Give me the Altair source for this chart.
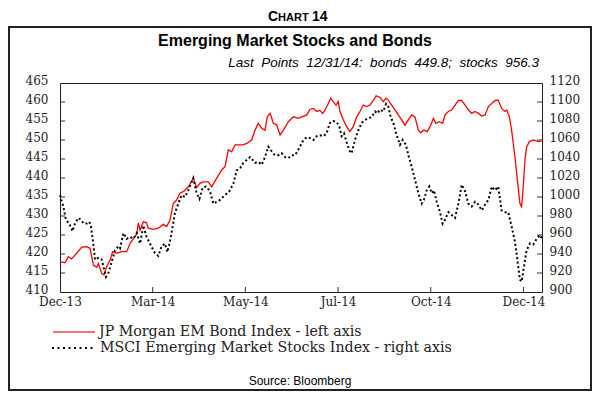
import altair as alt
import pandas as pd

# ---- data (trading-day index from 31 Dec 2013, value) ----
bond_day = [0, 2.7, 4.5, 6.3, 9, 11.7, 14.4, 16.2, 18, 19.8, 20.7, 22.5, 23.7, 25.2, 27, 28.4, 30.6, 33.3,
            36, 37.8, 40.5, 41.4, 42.3, 43.2, 45, 46.7, 47.6, 50.3, 53, 55.7, 57.5, 59.3, 61.1, 62.9, 64.7,
            66.5, 69.2, 71.9, 73.7, 75.5, 77.3, 80, 81.8, 84.5, 87.2, 89, 90.8, 92.6, 94.4, 96.2, 98.9, 100.7,
            103.4, 105.2, 107, 108.8, 110.6, 111.8, 113.3, 115.1, 116.9, 118.7, 120.5, 123.2, 125.9, 128.6,
            133.1, 134.9, 136.7, 138.5, 140.2, 141.7, 143, 144.7, 146, 147.4, 148.9, 150.1, 151, 152.8, 154.6,
            156.4, 158.2, 160, 161.8, 163.6, 165.4, 167.2, 169, 170.5, 172.6, 174.4, 175.9, 177.1, 178.9, 180.7,
            182.5, 184.3, 186.1, 187.9, 189.7, 191.5, 193.3, 194.5, 196.3, 198.1, 200, 201.4, 202.8, 204.6,
            206.4, 207.7, 209.5, 211.3, 213.1, 214.9, 216.7, 218.5, 220.3, 222.1, 223.9, 225.7, 227.5, 229.3,
            231.1, 232.9, 234.6, 236.4, 238.2, 240, 241, 242.4, 243.6, 245.4, 246.7, 248.1, 249, 249.9, 250.8,
            251.7, 253.2, 255.3, 258, 259.8]
bond_val = [418.0, 417.7, 419.3, 418.7, 420.2, 421.8, 421.9, 421.5, 417.1, 416.5, 417.5, 414.9, 414.5, 416.7,
            418.4, 420.6, 420.2, 420.6, 420.6, 422.8, 424.6, 425.4, 428.2, 426.3, 428.5, 428.2, 426.8, 426.5,
            426.8, 427.8, 427.2, 428.9, 433.3, 434.2, 436.0, 436.4, 437.7, 439.9, 437.5, 438.6, 439.0, 439.0,
            437.7, 439.9, 442.1, 443.0, 447.4, 446.9, 448.7, 448.7, 448.7, 449.1, 450.0, 452.6, 454.4, 453.1,
            452.6, 456.1, 457.0, 454.4, 454.0, 451.3, 452.6, 454.8, 456.1, 455.7,
            456.6, 458.1, 458.3, 457.5, 457.8, 457.0, 457.9, 459.6, 461.0, 460.1, 459.2, 460.1, 457.5, 455.3,
            453.5, 452.2, 453.5, 456.1, 457.5, 459.2, 458.8, 459.2, 460.4, 461.6, 461.2, 460.1, 461.0, 460.5,
            459.2, 457.9, 456.6, 455.3, 453.9, 455.3, 456.6, 456.1, 452.6, 451.9, 452.6, 452.2, 453.9, 455.7,
            454.4, 454.8, 454.4, 456.6, 457.5, 457.9, 459.2, 460.4, 460.4, 459.2, 457.9, 457.0, 457.5, 457.0,
            456.3, 456.6, 458.8, 459.6, 460.4, 460.5, 458.3, 457.5, 457.9, 456.1, 452.6, 445.6, 439.5, 433.3,
            432.5, 437.7, 444.7, 448.2, 449.6, 450.0, 449.6, 449.8]

stock_day = [0, 1.8, 3.2, 5, 6.8, 8.1, 9.9, 11.1, 12.9, 14.4, 15.8, 16.7, 18, 18.9, 20.7, 22.5, 23.4, 24.8,
             26.1, 27.9, 29.7, 31.5, 32.4, 34.2, 36, 37.8, 39.6, 41.4, 43.2, 45, 46.7, 48.5, 51.2, 53, 54.8,
             56.6, 57.9, 59.3, 60.8, 62, 63.8, 65.6, 67.4, 69.2, 71.9, 73.7, 75.2, 77, 78.8, 80.9, 82.7, 84.5,
             86.3, 89, 91.3, 93.5, 95.3, 97.1, 98.9, 100.7, 102.5, 103.9, 105.2, 107, 108.8, 110.6, 112.4,
             114.2, 116, 117.8, 119.6, 121.4, 123.2, 125, 126.8, 128.6,
             131.3, 133.1, 134.9, 136.7, 138.5, 140.2, 142.1, 143.8, 145.6, 147.4, 149.2, 150.7, 151.9, 153.2,
             155, 156.4, 157.3, 159.1, 160.9, 162.7, 164.5, 166.3, 168.1, 169.9, 171.2, 172.6, 174.4, 175.9,
             177.1, 178.4, 179.8, 181.6, 183.4, 184.8, 186.6, 187.9, 189.7, 191.5, 193.3, 195.1, 196.3, 197.8,
             199.2, 200.5, 201.7, 203.2, 205, 206.4, 207.7, 209.5, 211.3, 213.1, 214.9, 216.7, 218.5, 220.3,
             222.1, 223.9, 225.7, 227.5, 229.3, 231.1, 232.9, 234.6, 236.4, 238.2, 240, 241.8, 243.6, 245.4,
             246.7, 248.1, 249, 250.3, 251.7, 253.5, 255.3, 257.1, 258.9, 259.8]
stock_val = [1002, 990, 976, 972, 964, 972, 978, 976, 972, 972, 974, 969, 950, 934, 936, 934, 927, 916, 920,
             932, 944, 948, 946, 962, 956, 958, 956, 962, 951, 970, 958, 951, 941, 938, 948, 951, 942, 953, 969,
             983, 993, 1002, 1000, 1007, 1020, 1004, 998, 1010, 1011, 1006, 993, 995, 997, 1002, 1006, 1014,
             1028, 1030, 1036, 1039, 1042, 1039, 1036, 1037, 1034, 1042, 1053, 1048, 1044, 1044, 1046, 1042,
             1041, 1044, 1044, 1050,
             1060, 1063, 1062, 1060, 1064, 1065, 1064, 1067, 1078, 1080, 1079, 1074, 1064, 1067, 1055, 1048,
             1046, 1060, 1070, 1078, 1081, 1083, 1084, 1090, 1088, 1092, 1090, 1098, 1095, 1084, 1078, 1065,
             1055, 1060, 1055, 1044, 1032, 1018, 1004, 993, 997, 1007, 1011, 1004, 1007, 995, 984, 972, 976,
             984, 981, 978, 993, 1013, 1006, 993, 990, 995, 992, 986, 992, 997, 1011, 1007, 1011, 986, 984,
             984, 969, 953, 934, 913, 911, 927, 944, 951, 950, 956, 960, 956.3]

x_tick_values = [0, 50, 100, 150, 200, 250]
x_tick_labels = ["Dec-13", "Mar-14", "May-14", "Jul-14", "Oct-14", "Dec-14"]
left_ticks = [410, 415, 420, 425, 430, 435, 440, 445, 450, 455, 460, 465]
right_ticks = [900, 920, 940, 960, 980, 1000, 1020, 1040, 1060, 1080, 1100, 1120]

W, H = 482, 209
SERIF = "DejaVu Serif"
SANS = "Liberation Sans"

bonds = pd.DataFrame({"day": bond_day, "v": bond_val})
stocks = pd.DataFrame({"day": stock_day, "v": stock_val})

label_expr = " : ".join(
    f"datum.value == {v} ? '{l}'" for v, l in zip(x_tick_values, x_tick_labels)
) + " : ''"

xscale = alt.Scale(domain=[0, 260], nice=False, zero=False)
lscale = alt.Scale(domain=[410, 465], nice=False, zero=False)
rscale = alt.Scale(domain=[900, 1120], nice=False, zero=False)

xaxis = alt.Axis(values=x_tick_values, labelExpr=label_expr, ticks=False, domain=False, grid=False,
                 labelFont=SERIF, labelFontSize=12, labelColor="#222", labelPadding=4,
                 labelFlush=False, labelOverlap=False, title=None)

bond_line = alt.Chart(bonds).mark_line(color="#ff0000", strokeWidth=1.3).encode(
    x=alt.X("day:Q", scale=xscale, axis=xaxis),
    y=alt.Y("v:Q", scale=lscale, axis=alt.Axis(orient="left", values=left_ticks, ticks=False, domain=False,
                                               grid=False, labelFont=SERIF, labelFontSize=12,
                                               labelColor="#222", labelPadding=12, labelFlush=False,
                                               labelOffset=-3, labelOverlap=False, title=None)),
)

stock_line = alt.Chart(stocks).mark_line(color="black", strokeWidth=2, strokeDash=[2, 2.5]).encode(
    x=alt.X("day:Q", scale=xscale),
    y=alt.Y("v:Q", scale=rscale, axis=alt.Axis(orient="right", values=right_ticks, ticks=False, domain=False,
                                               grid=False, labelFont=SERIF, labelFontSize=12, format="d",
                                               labelColor="#222", labelPadding=7, labelFlush=False,
                                               labelOffset=-3, labelOverlap=False, title=None)),
)

# inward tick marks
xt = alt.Chart(pd.DataFrame({"t": x_tick_values[1:]})).mark_rule(color="#333", strokeWidth=1).encode(
    x=alt.X("t:Q", scale=xscale), y=alt.value(H), y2=alt.value(H - 5))
lt = alt.Chart(pd.DataFrame({"t": left_ticks[1:-1]})).mark_rule(color="#333", strokeWidth=1).encode(
    y=alt.Y("t:Q", scale=lscale, axis=None), x=alt.value(0), x2=alt.value(5))
rt = alt.Chart(pd.DataFrame({"t": right_ticks[1:-1]})).mark_rule(color="#333", strokeWidth=1).encode(
    y=alt.Y("t:Q", scale=rscale, axis=None), x=alt.value(W - 5), x2=alt.value(W))


def txt(s, x, y, size, font=SANS, weight="normal", style="normal", align="left", baseline="alphabetic",
        color="black"):
    return alt.Chart(pd.DataFrame({"s": [s]})).mark_text(
        font=font, fontSize=size, fontWeight=weight, fontStyle=style, align=align, baseline=baseline,
        color=color).encode(text="s:N", x=alt.value(x), y=alt.value(y))


NB = "\u00a0"
texts = [
    txt("C", 208, -62, 14, weight="bold"),
    txt("HART", 218.1, -62, 11, weight="bold"),
    txt("14", 252, -62, 14, weight="bold"),
    txt("Emerging Market Stocks and Bonds", 235, -37.5, 16, weight="bold", align="center"),
    txt(f"Last{NB} Points{NB} 12/31/14:{NB} bonds{NB} 449.8;{NB} stocks{NB} 956.3", 479, -16.5, 13.5,
        style="italic", align="right"),
    txt("JP Morgan EM Bond Index - left axis", 39, 249, 14.2, font=SERIF, baseline="middle", color="#222"),
    txt("MSCI Emerging Market Stocks Index - right axis", 40, 265, 14.2, font=SERIF, baseline="middle",
        color="#222"),
    txt("Source: Bloomberg", 240, 298, 12, align="center", baseline="middle"),
]

leg_red = alt.Chart(pd.DataFrame({"a": [0]})).mark_rule(color="#ff4040", strokeWidth=1.3).encode(
    x=alt.value(-7), x2=alt.value(35), y=alt.value(249))
leg_blk = alt.Chart(pd.DataFrame({"a": [0]})).mark_rule(color="black", strokeWidth=2,
                                                         strokeDash=[2, 3.5]).encode(
    x=alt.value(-8), x2=alt.value(36), y=alt.value(265))

frame = alt.Chart(pd.DataFrame({"a": [0]})).mark_rect(fillOpacity=0, stroke="#222", strokeWidth=2).encode(
    x=alt.value(-51), x2=alt.value(531), y=alt.value(-56), y2=alt.value(307))

chart = alt.layer(
    bond_line, stock_line, xt, lt, rt, leg_red, leg_blk, frame, *texts
).resolve_scale(y="independent").properties(
    width=W, height=H,
    padding={"left": 52, "top": 75, "right": 50, "bottom": 100},
    autosize=alt.AutoSizeParams(type="none"),
    background="white",
).configure_view(stroke="#222", strokeWidth=1)

chart.save("out.html", embed_options={"renderer": "svg", "actions": False})
